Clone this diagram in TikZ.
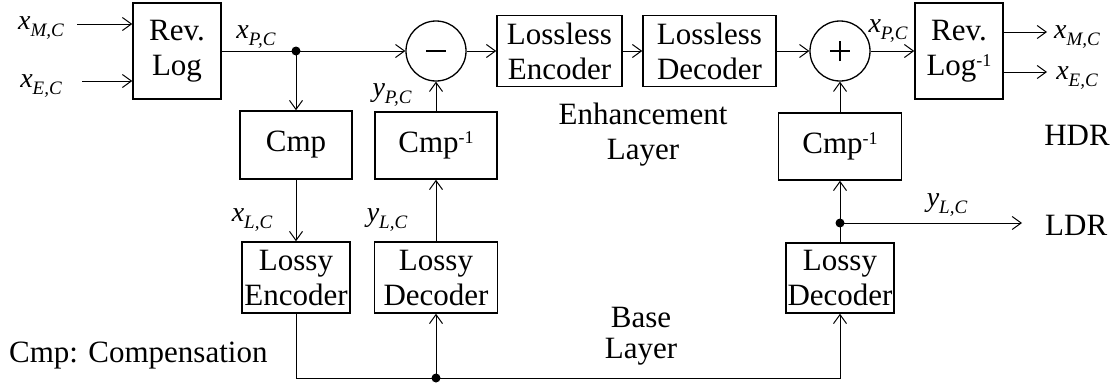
\documentclass[tikz,border=0pt]{standalone}
\usepackage{fontspec}
\setmainfont{Liberation Serif}
\usetikzlibrary{arrows.meta}
\newcommand{\vlab}[2]{{\fontsize{28}{30}\selectfont\itshape #1\raisebox{-0.25em}{\fontsize{19}{20}\selectfont #2}}}
\newcommand{\supinv}{\raisebox{0.3em}{\fontsize{18}{20}\selectfont -1}}
\begin{document}
\begin{tikzpicture}[x=1pt,y=-1pt,
  blk/.style={draw, line width=1.5pt, inner sep=0pt, align=center, font=\fontsize{31}{35}\selectfont},
  sumnode/.style={draw, circle, line width=1.3pt, minimum size=60pt, inner sep=0pt, font=\fontsize{31}{35}\selectfont},
  conn/.style={line width=1pt, -{Straight Barb[length=9pt,width=13pt,line width=1pt]}},
  wire/.style={line width=1pt},
  dotn/.style={circle, fill, inner sep=0pt, minimum size=9pt},
  lbl/.style={inner sep=0pt},
  txt/.style={inner sep=0pt, font=\fontsize{31}{35}\selectfont}]
\useasboundingbox (0,0) rectangle (1119,383);

% blocks
\node[blk, minimum width=88pt, minimum height=96pt] (revlog) at (177,51) {Rev.\\Log};
\node[blk, minimum width=112pt, minimum height=68pt] (cmp) at (296,145) {Cmp};
\node[blk, minimum width=122pt, minimum height=67pt] (cmpinvl) at (436,145.5) {Cmp\supinv};
\node[sumnode] (minus) at (436,51) {};
\node[blk, minimum width=125pt, minimum height=71pt] (llenc) at (559.5,51) {Lossless\\Encoder};
\node[blk, minimum width=133pt, minimum height=71pt] (lldec) at (709.5,51) {Lossless\\Decoder};
\node[sumnode] (plus) at (840,51) {};
\node[blk, minimum width=88pt, minimum height=96pt] (revlogi) at (959,51) {Rev.\\Log\supinv};
\node[blk, minimum width=123pt, minimum height=67pt] (cmpinvr) at (840,146.5) {Cmp\supinv};
\node[blk, minimum width=108pt, minimum height=71pt] (lossyenc) at (296,277.5) {Lossy\\Encoder};
\node[blk, minimum width=123pt, minimum height=71pt] (lossydecl) at (436,277.5) {Lossy\\Decoder};
\node[blk, minimum width=108pt, minimum height=70pt] (lossydecr) at (840,278) {Lossy\\Decoder};

% signs inside the circles
\draw[line width=1.5pt] ([xshift=-10pt]minus.center) coordinate (m1) -- ([xshift=10pt]minus.center) coordinate (m2);
\draw[line width=1.5pt] ([xshift=-10pt]plus.center) coordinate (p1) -- ([xshift=10pt]plus.center) coordinate (p2);
\draw[line width=1.5pt] ([yshift=-10pt]plus.center) coordinate (p3) -- ([yshift=10pt]plus.center) coordinate (p4);

% junctions
\node[dotn] (d1) at (296,51) {};
\node[dotn] (d2) at (436,378) {};
\node[dotn] (d3) at (840,223) {};
\coordinate (in1) at (77,24);
\coordinate (in2) at (82,81);
\coordinate (out1) at (1047,32);
\coordinate (out2) at (1047,72);
\coordinate (ldr) at (1022,223);

% connectors
\draw[conn] (in1) -- (revlog.west |- in1);
\draw[conn] (in2) -- (revlog.west |- in2);
\draw[wire] (revlog.east |- d1) -- (d1.center);
\draw[conn] (d1.center) -- (minus.west);
\draw[conn] (d1.center) -- (cmp.north);
\draw[conn] (cmp.south) -- (lossyenc.north);
\draw[conn] (minus.east) -- (llenc.west);
\draw[conn] (llenc.east) -- (lldec.west);
\draw[conn] (lldec.east) -- (plus.west);
\draw[conn] (plus.east) -- (revlogi.west |- plus.east);
\draw[conn] (revlogi.east |- out1) -- (out1);
\draw[conn] (revlogi.east |- out2) -- (out2);
\draw[conn] (cmpinvl.north) -- (minus.south);
\draw[conn] (lossydecl.north) -- (cmpinvl.south);
\draw[conn] (cmpinvr.north) -- (plus.south);
\draw[wire] (lossydecr.north) -- (d3.center);
\draw[conn] (d3.center) -- (cmpinvr.south);
\draw[conn] (d3.center) -- (ldr);
\draw[wire] (lossyenc.south) |- (d2.center);
\draw[conn] (d2.center) -| (lossydecr.south);
\draw[conn] (d2.center) -- (lossydecl.south);

% signal labels
\node[lbl] (lxmc) at (41,28) {\vlab{x}{M,C}};
\node[lbl] (lxec) at (41,86) {\vlab{x}{E,C}};
\node[lbl] (lxpc1) at (256,37) {\vlab{x}{P,C}};
\node[lbl] (lypc) at (392,95) {\vlab{y}{P,C}};
\node[lbl] (lxlc) at (252,220) {\vlab{x}{L,C}};
\node[lbl] (lylc1) at (387,220) {\vlab{y}{L,C}};
\node[lbl] (lxpc2) at (888,31) {\vlab{x}{P,C}};
\node[lbl] (lylc2) at (947,205) {\vlab{y}{L,C}};
\node[lbl] (lxmco) at (1077,37) {\vlab{x}{M,C}};
\node[lbl] (lxeco) at (1077,78) {\vlab{x}{E,C}};

% texts
\node[txt, anchor=base] (enh1) at (643,124) {Enhancement};
\node[txt, anchor=base] (enh2) at (643,159) {Layer};
\node[txt, anchor=base] (base1) at (641,327) {Base};
\node[txt, anchor=base] (base2) at (641,358) {Layer};
\node[txt, anchor=base] (hdr) at (1077,145) {HDR};
\node[txt, anchor=base west] (ldrt) at (1045,235) {LDR};
\node[txt, anchor=base west] (legend) at (9,362) {Cmp: Compensation};
\end{tikzpicture}
\end{document}
